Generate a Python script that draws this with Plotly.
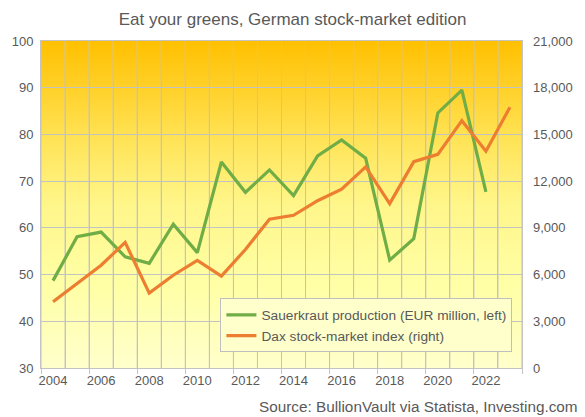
import plotly.graph_objects as go

years_sk = list(range(2004, 2023))
sauerkraut = [48.7, 58.1, 59.1, 53.8, 52.4, 60.8, 54.7, 74.1, 67.6, 72.4, 66.9,
              75.4, 78.8, 74.9, 53.1, 57.7, 84.6, 89.5, 67.7]
years_dax = list(range(2004, 2024))
dax = [4256, 5408, 6597, 8067, 4810, 5957, 6914, 5898, 7612, 9552, 9806,
       10743, 11481, 12918, 10559, 13249, 13719, 15885, 13924, 16752]
x_labels = ["2004", "", "2006", "", "2008", "", "2010", "", "2012", "", "2014", "",
            "2016", "", "2018", "", "2020", "", "2022", "", ""]

FONT = "Liberation Sans, Arial, sans-serif"
GRID = "#C3C3C3"
TXT = "#595959"

svg = ("data:image/svg+xml;utf8,"
       "<svg xmlns='http://www.w3.org/2000/svg' width='100' height='100' preserveAspectRatio='none'>"
       "<defs><linearGradient id='g' x1='0' y1='0' x2='0' y2='1'>"
       "<stop offset='0' stop-color='%23FFC000'/>"
       "<stop offset='0.3' stop-color='%23FFE356'/>"
       "<stop offset='0.5' stop-color='%23FFF68A'/>"
       "<stop offset='0.75' stop-color='%23FFFFA6'/>"
       "<stop offset='1' stop-color='%23FFFFCC'/>"
       "</linearGradient></defs>"
       "<rect width='100' height='100' fill='url(%23g)'/></svg>")

fig = go.Figure()
fig.add_trace(go.Scatter(x=years_sk, y=sauerkraut, mode="lines",
                         name="Sauerkraut production (EUR million, left)",
                         line=dict(color="#70AD47", width=3.2)))
fig.add_trace(go.Scatter(x=years_dax, y=dax, mode="lines", yaxis="y2",
                         name="Dax stock-market index (right)",
                         line=dict(color="#ED7D31", width=3.2)))

bounds = [years_dax[0] - 0.5 + i for i in range(len(years_dax) + 1)]
tickmarks = bounds[::2]

# category-boundary gridlines (vertical), drawn between the background and the traces
shapes = [dict(type="line", xref="x", yref="paper", x0=b, x1=b, y0=0, y1=1,
               line=dict(color=GRID, width=1), layer="between") for b in bounds]

fig.update_layout(
    width=585, height=417,
    margin=dict(l=40, r=60, t=41, b=49),
    paper_bgcolor="white",
    plot_bgcolor="rgba(0,0,0,0)",
    font=dict(family=FONT, size=13, color=TXT),
    title=dict(text="Eat your greens, German stock-market edition",
               x=0.5, xanchor="center", y=0.954, yanchor="middle",
               font=dict(size=17, color=TXT)),
    images=[dict(source=svg, xref="paper", yref="paper", x=0, y=1,
                 sizex=1, sizey=1, xanchor="left", yanchor="top",
                 sizing="stretch", layer="below")],
    shapes=shapes,
    xaxis=dict(range=[bounds[0], bounds[-1]], tickmode="array", tickvals=bounds,
               ticktext=x_labels, ticklabelshift=12, ticks="",
               showgrid=True, gridcolor=GRID, gridwidth=1,
               showline=True, linecolor=GRID, mirror=True,
               zeroline=False, tickfont=dict(size=13, color=TXT),
               minor=dict(tickmode="array", tickvals=tickmarks, showgrid=False,
                          ticks="outside", ticklen=5, tickcolor=GRID, tickwidth=1)),
    yaxis=dict(range=[30, 100], dtick=10, tick0=30, showgrid=True,
               gridcolor=GRID, gridwidth=1, showline=True, linecolor=GRID,
               mirror=True, zeroline=False, ticks="", ticklabelstandoff=4,
               tickfont=dict(size=13, color=TXT)),
    yaxis2=dict(range=[0, 21000], dtick=3000, tick0=0, overlaying="y",
                side="right", showgrid=False, zeroline=False, ticks="",
                tickformat=",", ticklabelstandoff=10,
                tickfont=dict(size=13, color=TXT)),
    legend=dict(x=0.373, y=0.13, xanchor="left", yanchor="middle",
                bgcolor="#FFFFCC", bordercolor="#BFBFBF", borderwidth=1,
                itemwidth=30, font=dict(size=13.7, color=TXT),
                tracegroupgap=4),
    showlegend=True,
    annotations=[dict(text="Source: BullionVault via Statista, Investing.com",
                      xref="paper", yref="paper", x=1.1196, y=-0.118,
                      xanchor="right", yanchor="middle", showarrow=False,
                      font=dict(size=15.3, color=TXT))],
)

fig.write_html("out.html", config={"displayModeBar": False},
               post_script="document.body.style.margin='0';document.body.style.padding='0';")
